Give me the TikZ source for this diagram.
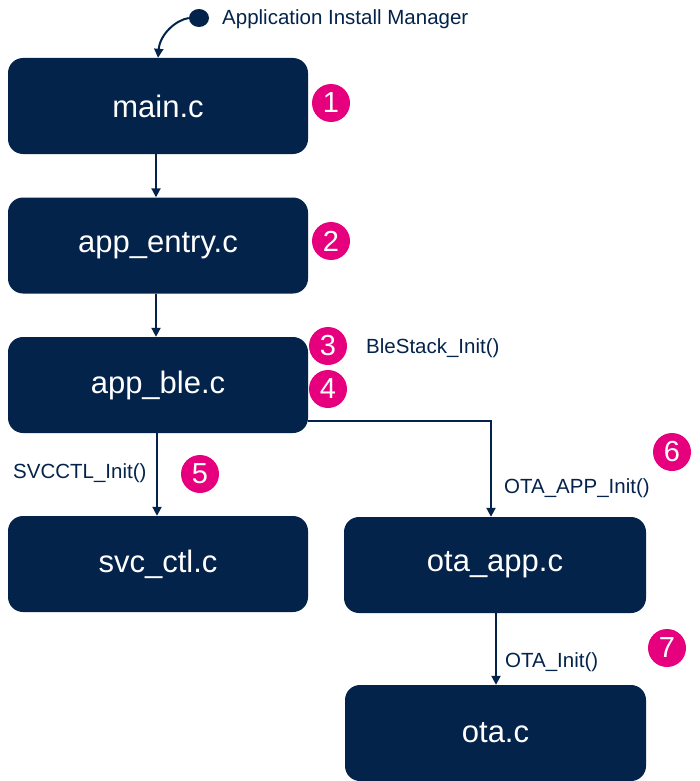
\documentclass[tikz,border=0pt]{standalone}
\usepackage{fontspec}
\setmainfont{Liberation Sans}
\usetikzlibrary{arrows.meta,shapes.geometric}
\definecolor{navy}{RGB}{3,35,75}
\definecolor{stpink}{RGB}{230,0,126}
\begin{document}
\begin{tikzpicture}[x=1pt,y=-1pt,
  box/.style={fill=navy,rounded corners=15pt,minimum width=300pt,minimum height=96pt,text=white,font=\fontsize{31}{36}\selectfont,inner sep=0pt},
  badge/.style={circle,fill=stpink,minimum size=38pt,inner sep=0pt,text=white,font=\fontsize{29}{32}\selectfont},
  lbl/.style={text=navy,font=\fontsize{20.5}{24}\selectfont,inner sep=0pt},
  conn/.style={draw=navy,line width=2pt,-{Triangle[length=9pt,width=9pt]}}]
\useasboundingbox (0,0) rectangle (700,781);
\node[box] (main) at (158,106) {main.c};
\node[box] (entry) at (158,245.5) {app\_entry.c};
\node[box] (ble) at (158,385) {app\_ble.c};
\node[box] (svc) at (158,564) {svc\_ctl.c};
\node[box,minimum width=302pt] (otaapp) at (495,565) {ota\_app.c};
\node[box,minimum width=301pt] (ota) at (495.5,733) {ota.c};
\node[badge] (b1) at (331,103) {1};
\node[badge] (b2) at (331,241) {2};
\node[badge] (b3) at (328,346) {3};
\node[badge] (b4) at (328,389) {4};
\node[badge] (b5) at (200,474) {5};
\node[badge] (b6) at (672,452) {6};
\node[badge] (b7) at (667,648) {7};
\node[lbl,anchor=west] (l3) at (366,348) {BleStack\_Init()};
\node[lbl,anchor=west] (l6) at (504,488) {OTA\_APP\_Init()};
\node[lbl,anchor=west] (l5) at (13,473) {SVCCTL\_Init()};
\node[lbl,anchor=west] (l7) at (505,662) {OTA\_Init()};
\node[lbl,anchor=west] (lam) at (222,19) {Application Install Manager};
\node[ellipse,fill=navy,minimum width=20pt,minimum height=18pt,inner sep=0pt] (dot) at (199,18) {};
\draw[conn] (dot.west) .. controls (176,20) and (160,34) .. (main.north -| 158,0);
\draw[conn] (main.south -| 156,0) -- (entry.north -| 156,0);
\draw[conn] (entry.south -| 156,0) -- (ble.north -| 156,0);
\draw[conn] (ble.south -| 157,0) -- (svc.north -| 157,0);
\coordinate (corner) at (491,421);
\draw[conn] (ble.east |- corner) -- (corner) -- (otaapp.north -| corner);
\draw[conn] (otaapp.south -| 496,0) -- (ota.north -| 496,0);
\end{tikzpicture}
\end{document}
